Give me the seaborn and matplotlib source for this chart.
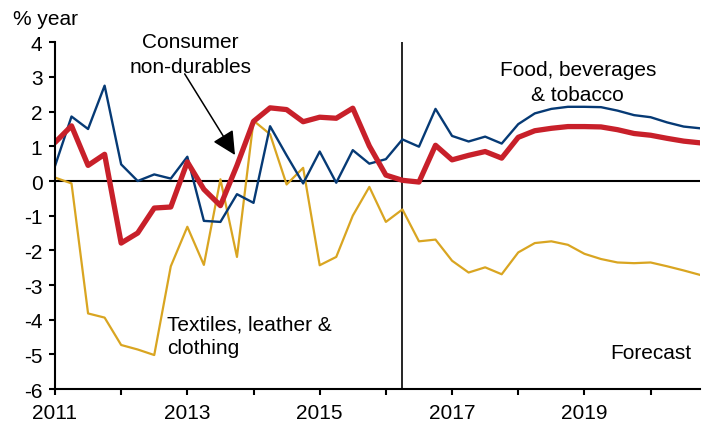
import matplotlib
matplotlib.use("Agg")
import matplotlib.pyplot as plt
import seaborn as sns
import numpy as np
import pandas as pd

# quarterly, 2011Q1 .. 2020Q4
quarters = 2011 + np.arange(40) / 4

consumer_nondurables = [
    1.11, 1.59, 0.45, 0.77, -1.79, -1.50, -0.78, -0.75, 0.55, -0.24,
    -0.71, 0.45, 1.72, 2.11, 2.06, 1.71, 1.84, 1.81, 2.10, 1.01,
    0.17, 0.02, -0.03, 1.03, 0.61, 0.74, 0.85, 0.66, 1.26, 1.45,
    1.52, 1.57, 1.57, 1.56, 1.48, 1.37, 1.32, 1.23, 1.15, 1.10,
]
food_bev_tobacco = [
    0.43, 1.86, 1.50, 2.75, 0.48, 0.00, 0.19, 0.07, 0.70, -1.15,
    -1.18, -0.38, -0.63, 1.58, 0.74, -0.07, 0.85, -0.05, 0.89, 0.50,
    0.63, 1.20, 0.99, 2.08, 1.30, 1.14, 1.28, 1.08, 1.64, 1.95,
    2.08, 2.14, 2.14, 2.13, 2.03, 1.90, 1.84, 1.69, 1.57, 1.52,
]
textiles = [
    0.10, -0.07, -3.82, -3.94, -4.73, -4.86, -5.02, -2.46, -1.32, -2.42,
    0.05, -2.19, 1.74, 1.35, -0.10, 0.38, -2.43, -2.19, -1.00, -0.17,
    -1.18, -0.82, -1.74, -1.69, -2.30, -2.64, -2.49, -2.69, -2.06, -1.79,
    -1.74, -1.84, -2.10, -2.25, -2.35, -2.37, -2.35, -2.46, -2.58, -2.71,
]
forecast_start = 2016.25
year_ticks = list(range(2011, 2021))
year_labels = [str(y) if y % 2 == 1 else "" for y in year_ticks]
y_ticks = list(range(-6, 5))

df = pd.DataFrame({
    "quarter": quarters,
    "nondurables": consumer_nondurables,
    "food": food_bev_tobacco,
    "textiles": textiles,
})

sns.set_theme(style="white")
plt.rcParams["font.family"] = ["Liberation Sans", "DejaVu Sans"]
plt.rcParams["axes.unicode_minus"] = False
plt.rcParams["text.color"] = "black"

fig = plt.figure(figsize=(7.13, 4.35), dpi=100)
ax = fig.add_axes([0.0771, 0.1034, 0.905, 0.797])

sns.lineplot(data=df, x="quarter", y="textiles", ax=ax, color="#D9A521", lw=1.6)
sns.lineplot(data=df, x="quarter", y="food", ax=ax, color="#063A75", lw=1.7)
sns.lineplot(data=df, x="quarter", y="nondurables", ax=ax, color="#C8202A", lw=3.8)

ax.axhline(0, color="black", lw=1.5, zorder=1)
ax.axvline(forecast_start, color="black", lw=1.2, zorder=1)

ax.set_xlim(2011, 2020.75)
ax.set_ylim(-6, 4)
ax.set_xticks(year_ticks)
ax.set_xticklabels(year_labels)
ax.set_yticks(y_ticks)
ax.set_xlabel("")
ax.set_ylabel("")

for side in ["top", "right"]:
    ax.spines[side].set_visible(False)
for side in ["left", "bottom"]:
    ax.spines[side].set_color("black")
    ax.spines[side].set_linewidth(1.5)

ax.tick_params(axis="both", which="major", direction="out", length=4, width=1.5,
               color="black", labelsize=15, labelcolor="black")
ax.tick_params(axis="x", pad=6, bottom=True)
ax.tick_params(axis="y", pad=5, left=True)

fs = 15
ax.text(2013.05, 3.856, "Consumer", ha="center", va="baseline", fontsize=fs)
ax.text(2013.05, 3.135, "non-durables", ha="center", va="baseline", fontsize=fs)
ax.annotate("", xy=(2013.72, 0.75), xytext=(2012.96, 3.09),
            arrowprops=dict(arrowstyle="-|>,head_length=0.8,head_width=0.4",
                            color="black", lw=1.1, mutation_scale=18,
                            shrinkA=0, shrinkB=0))
ax.text(2018.90, 3.066, "Food, beverages", ha="center", va="baseline", fontsize=fs)
ax.text(2018.90, 2.345, "& tobacco", ha="center", va="baseline", fontsize=fs)
ax.text(2012.70, -4.269, "Textiles, leather &", ha="left", va="baseline", fontsize=fs)
ax.text(2012.70, -4.961, "clothing", ha="left", va="baseline", fontsize=fs)
ax.text(2020.0, -5.114, "Forecast", ha="center", va="baseline", fontsize=fs)

fig.text(12.7 / 713, 1 - 25 / 435, "% year", ha="left", va="baseline", fontsize=fs)

fig.savefig("out.png", dpi=100)
